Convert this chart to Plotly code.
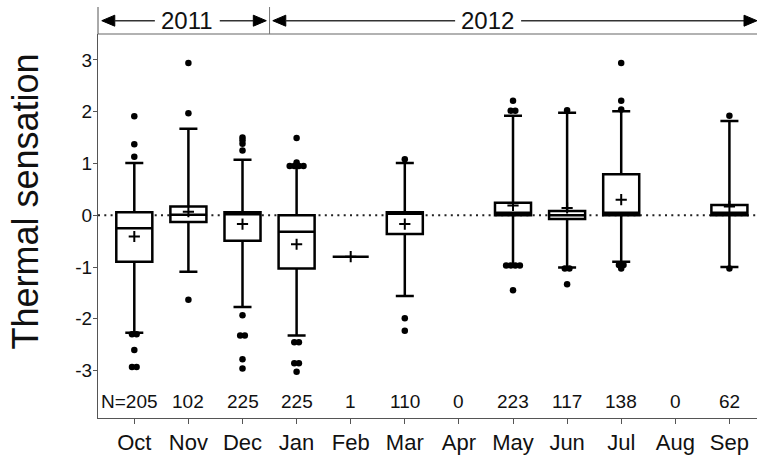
import plotly.graph_objects as go

# Monthly thermal sensation votes, Oct 2011 - Sep 2012
months = ["Oct", "Nov", "Dec", "Jan", "Feb", "Mar", "Apr", "May", "Jun", "Jul", "Aug", "Sep"]
n_obs = [205, 102, 225, 225, 1, 110, 0, 223, 117, 138, 0, 62]

q1 = [-0.90, -0.13, -0.49, -1.03, -0.80, -0.36, None, 0.00, -0.07, 0.00, None, 0.00]
median = [-0.25, 0.01, 0.02, -0.32, -0.80, 0.03, None, 0.05, 0.00, 0.05, None, 0.05]
q3 = [0.06, 0.17, 0.06, 0.00, -0.80, 0.06, None, 0.24, 0.08, 0.79, None, 0.20]
whisker_low = [-2.27, -1.09, -1.77, -2.32, -0.80, -1.56, None, -0.97, -1.01, -0.90, None, -1.00]
whisker_high = [1.01, 1.67, 1.07, 0.95, -0.80, 1.01, None, 1.92, 1.98, 2.01, None, 1.82]
mean = [-0.41, 0.07, -0.17, -0.56, -0.80, -0.17, None, 0.19, 0.14, 0.30, None, 0.17]

outlier_values = [
    [1.91, 1.37, 1.13, -2.30, -2.30, -2.60, -2.93, -2.93],
    [2.94, 1.97, -1.63],
    [1.50, 1.45, 1.38, 1.25, -1.93, -2.32, -2.32, -2.78, -2.96],
    [1.49, 1.02, 0.95, 0.95, 0.95, 0.95, -2.45, -2.45, -2.86, -2.86, -3.02],
    [],
    [1.08, -1.99, -2.23],
    [],
    [2.21, 2.02, 2.02, -0.97, -0.97, -0.97, -0.97, -1.45],
    [2.03, -1.03, -1.03, -1.33],
    [2.94, 2.21, 2.04, -0.96, -0.96, -1.03],
    [],
    [1.92, -1.03],
]

y_ticks = [-3, -2, -1, 0, 1, 2, 3]

FONT = "Liberation Sans, Arial, sans-serif"
INK = "#111111"
AXIS = "#555555"

pos = list(range(len(months)))
has = [i for i in pos if n_obs[i] > 0]

fig = go.Figure()

# Boxes with whisker caps from the precomputed statistics
fig.add_trace(go.Box(
    x=[pos[i] for i in has],
    q1=[q1[i] for i in has],
    median=[median[i] for i in has],
    q3=[q3[i] for i in has],
    lowerfence=[whisker_low[i] for i in has],
    upperfence=[whisker_high[i] for i in has],
    width=0.666,
    whiskerwidth=0.5,
    fillcolor="white",
    line=dict(color="black", width=2.5),
    boxpoints=False,
    hoverinfo="skip",
))

# Means as plus signs
fig.add_trace(go.Scatter(
    x=[pos[i] for i in has],
    y=[mean[i] for i in has],
    mode="markers",
    marker=dict(symbol="cross-thin", size=8, line=dict(color="black", width=2)),
    hoverinfo="skip",
))

# Outliers: repeated values are spread sideways so each dot stays visible
ox, oy = [], []
spread = 0.085
for i, vals in enumerate(outlier_values):
    counts = {}
    for v in vals:
        counts[v] = counts.get(v, 0) + 1
    for v, c in counts.items():
        for k in range(c):
            ox.append(pos[i] + (k - (c - 1) / 2) * spread)
            oy.append(v)
fig.add_trace(go.Scatter(
    x=ox, y=oy, mode="markers",
    marker=dict(symbol="circle", size=6.5, color="black"),
    hoverinfo="skip",
))

# Sample sizes along the bottom of the plot
for i in pos:
    label = f"N={n_obs[i]}" if i == 0 else str(n_obs[i])
    fig.add_annotation(
        x=pos[i], y=-3.6, xref="x", yref="y", text=label, showarrow=False,
        font=dict(family=FONT, size=19, color=INK),
        xshift=-5 if i == 0 else 0,
    )

x_lo, x_hi = -0.671, 11.51
H, T, B = 455, 34, 37
plot_h = H - T - B


def py(pix):
    # vertical pixel position -> paper coordinate
    return (H - B - pix) / plot_h


shapes = []
# dotted reference line at zero
shapes.append(dict(type="line", xref="paper", yref="y", x0=0, x1=1, y0=0, y1=0,
                   line=dict(color="#222222", width=2, dash="2px,4.3px"), layer="below"))
# top frame line and year header
shapes.append(dict(type="line", xref="paper", yref="paper", x0=0, x1=1, y0=1, y1=1,
                   line=dict(color="#999999", width=1.5)))
shapes.append(dict(type="line", xref="paper", yref="paper", x0=0, x1=0, y0=1, y1=py(7),
                   line=dict(color=AXIS, width=1)))
shapes.append(dict(type="line", xref="x", yref="paper", x0=2.5, x1=2.5, y0=1, y1=py(7),
                   line=dict(color="#777777", width=1)))

ya = py(20.7)
head_len = 0.24
head_h = 5.5 / plot_h


def arrow_head(tip, direction):
    base = tip - direction * head_len
    return dict(type="path", xref="x", yref="paper",
                path=f"M {tip},{ya} L {base},{ya + head_h} L {base},{ya - head_h} Z",
                fillcolor="black", line=dict(color="black", width=1))


def seg(a, b):
    return dict(type="line", xref="x", yref="paper", x0=a, x1=b, y0=ya, y1=ya,
                line=dict(color="#333333", width=1.5))


left_tip = x_lo + 0.07
div_l = 2.5 - 0.06
div_r = 2.5 + 0.06
right_tip = x_hi
shapes += [
    arrow_head(left_tip, -1), seg(left_tip + head_len, 0.38),
    seg(1.58, div_l - head_len), arrow_head(div_l, 1),
    arrow_head(div_r, -1), seg(div_r + head_len, 5.93),
    seg(7.15, right_tip - head_len), arrow_head(right_tip, 1),
]
fig.add_annotation(x=0.98, y=ya, xref="x", yref="paper", text="2011", showarrow=False,
                   xanchor="center", yanchor="middle",
                   font=dict(family=FONT, size=24, color=INK))
fig.add_annotation(x=6.53, y=ya, xref="x", yref="paper", text="2012", showarrow=False,
                   xanchor="center", yanchor="middle",
                   font=dict(family=FONT, size=24, color=INK))

# Y axis title
fig.add_annotation(x=(25 - 98) / 659, y=py(201.5), xref="paper", yref="paper",
                   text="Thermal sensation", textangle=-90, showarrow=False,
                   xanchor="center", yanchor="middle",
                   font=dict(family=FONT, size=36, color=INK))

fig.update_layout(
    width=757, height=455,
    margin=dict(l=98, r=0, t=T, b=B),
    plot_bgcolor="white", paper_bgcolor="white",
    showlegend=False,
    font=dict(family=FONT, color=INK),
    shapes=shapes,
    xaxis=dict(range=[x_lo, x_hi], tickvals=pos, ticktext=months,
               ticks="outside", ticklen=5, tickcolor=AXIS, tickwidth=1,
               showline=True, linecolor=AXIS, linewidth=1,
               showgrid=False, zeroline=False,
               tickfont=dict(family=FONT, size=22, color=INK)),
    yaxis=dict(range=[-3.915, 3.5], tickvals=y_ticks, ticktext=[str(v) for v in y_ticks],
               ticks="outside", ticklen=4, tickcolor=AXIS, tickwidth=1,
               showline=True, linecolor=AXIS, linewidth=1,
               showgrid=False, zeroline=False, ticklabelstandoff=-3,
               tickfont=dict(family=FONT, size=19, color=INK)),
)

fig.write_html("out.html")
